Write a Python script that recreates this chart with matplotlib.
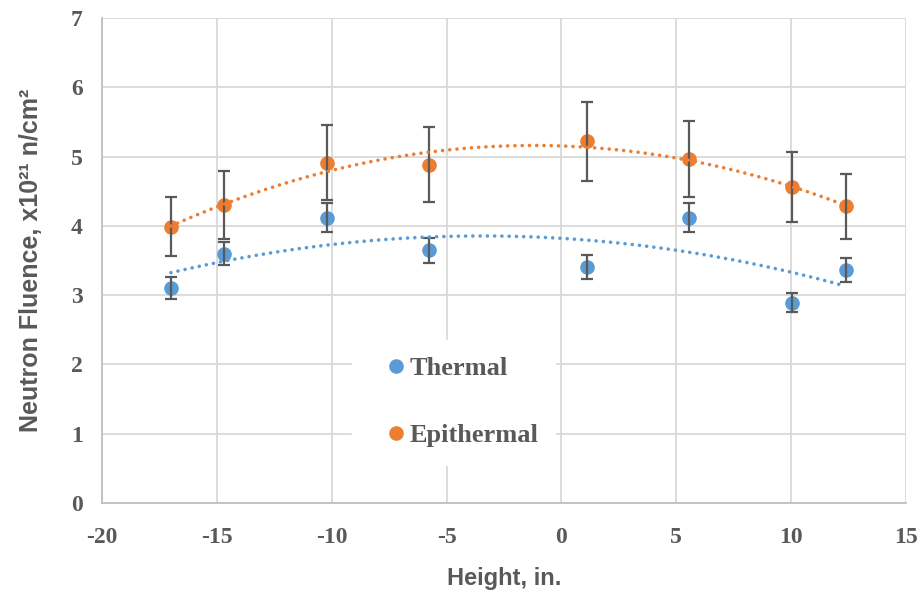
import numpy as np
import matplotlib
matplotlib.use('Agg')
from matplotlib import pyplot as plt

# data
height = [-17.0, -14.7, -10.2, -5.75, 1.1, 5.55, 10.05, 12.37]
thermal = [3.10, 3.60, 4.12, 3.65, 3.41, 4.12, 2.89, 3.36]
thermal_err = [0.16, 0.17, 0.21, 0.18, 0.17, 0.21, 0.14, 0.17]
epithermal = [3.99, 4.30, 4.91, 4.88, 5.22, 4.96, 4.56, 4.28]
epithermal_err = [0.43, 0.49, 0.54, 0.54, 0.57, 0.55, 0.50, 0.47]

blue = '#5B9BD5'
orange = '#ED7D31'
grey = '#595959'

plt.rcParams['axes.unicode_minus'] = False


def main():
    fig = plt.figure(figsize=(9.22, 5.91), dpi=100)
    ax = fig.add_axes([0.1106, 0.1489, 0.872, 0.8206])

    series = [('Thermal', thermal, thermal_err, blue),
              ('Epithermal', epithermal, epithermal_err, orange)]
    for name, vals, err, col in series:
        ax.plot(height, vals, 'o', color=col, markersize=9.5, label=name, zorder=3)
        ax.errorbar(height, vals, yerr=err, fmt='none', ecolor=grey,
                    elinewidth=1.6, capsize=4, capthick=1.6, zorder=4)
        # polynomial (order 2) trendline
        coef = np.polyfit(height, vals, 2)
        xs = np.linspace(min(height), max(height), 200)
        ax.plot(xs, np.polyval(coef, xs), linestyle=(0, (0.01, 2.0)),
                color=col, linewidth=2.6, dash_capstyle='round', zorder=5)

    ax.set_xlim(-20, 15)
    ax.set_ylim(0, 7)
    ax.set_xticks(range(-20, 16, 5))
    ax.set_yticks(range(0, 8))
    ax.grid(color='#d9d9d9', linewidth=1.3)
    ax.set_axisbelow(True)
    for s in ['top', 'right']:
        ax.spines[s].set_visible(False)
    for s in ['left', 'bottom']:
        ax.spines[s].set_color('#bfbfbf')
        ax.spines[s].set_linewidth(1.3)
    ax.tick_params(length=0, labelcolor=grey)
    ax.tick_params(axis='x', pad=17)
    ax.tick_params(axis='y', pad=14)
    for lab in ax.get_xticklabels() + ax.get_yticklabels():
        lab.set_fontfamily('Liberation Serif')
        lab.set_fontweight('bold')
        lab.set_fontsize(17)

    ax.set_xlabel('Height, in.', fontfamily='Liberation Sans', fontweight='bold',
                  fontsize=17, color=grey, labelpad=14)
    ax.set_ylabel('Neutron Fluence, x10²¹ n/cm²', fontfamily='Liberation Sans',
                  fontweight='bold', fontsize=18, color=grey, labelpad=20)

    leg = ax.legend(loc='center left', bbox_to_anchor=(0.295, 0.208), frameon=True,
                    facecolor='white', edgecolor='white', framealpha=1,
                    labelspacing=1.65, borderpad=0.65, handlelength=2.0,
                    handletextpad=-0.5,
                    prop={'family': 'Liberation Serif', 'weight': 'bold', 'size': 19})
    leg.get_frame().set_boxstyle('square', pad=0)
    for t in leg.get_texts():
        t.set_color(grey)

    fig.savefig('out.png', dpi=100)


if __name__ == "__main__":
    main()
